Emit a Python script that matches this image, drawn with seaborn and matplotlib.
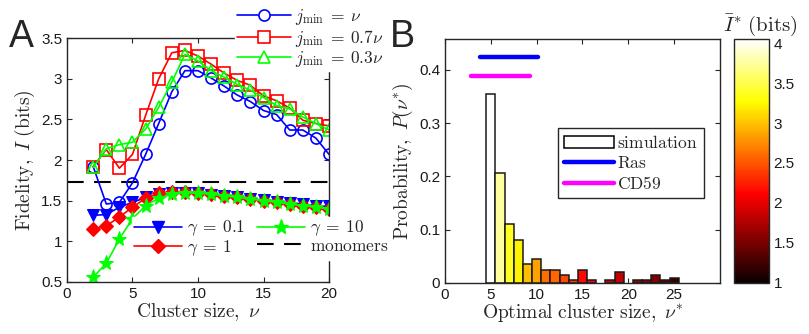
import numpy as np
import matplotlib
matplotlib.use("Agg")
import matplotlib.pyplot as plt
import seaborn as sns
from matplotlib.colors import Normalize
from matplotlib.patches import Patch
from matplotlib.lines import Line2D

# Panel A data
nu = list(range(2, 21))
I_jnu = [1.92, 1.46, 1.48, 1.72, 2.07, 2.45, 2.84, 3.10, 3.10, 3.01, 2.91, 2.80,
         2.72, 2.61, 2.56, 2.37, 2.37, 2.27, 2.07]
I_j07 = [1.92, 2.13, 1.90, 2.07, 2.55, 3.00, 3.32, 3.35, 3.28, 3.18, 3.07, 2.98,
         2.92, 2.79, 2.73, 2.64, 2.49, 2.45, 2.42]
I_j03 = [1.91, 2.14, 2.19, 2.22, 2.38, 2.65, 2.96, 3.30, 3.22, 3.10, 3.02, 2.93,
         2.86, 2.77, 2.67, 2.63, 2.53, 2.45, 2.37]
I_g01 = [1.32, 1.33, 1.42, 1.48, 1.54, 1.58, 1.60, 1.60, 1.59, 1.57, 1.56, 1.54,
         1.52, 1.51, 1.49, 1.47, 1.46, 1.44, 1.43]
I_g1 = [1.15, 1.19, 1.30, 1.42, 1.53, 1.59, 1.61, 1.61, 1.60, 1.58, 1.56, 1.54,
        1.52, 1.50, 1.48, 1.46, 1.44, 1.42, 1.40]
I_g10 = [0.56, 0.73, 1.03, 1.28, 1.44, 1.53, 1.58, 1.60, 1.59, 1.58, 1.56, 1.54,
         1.52, 1.50, 1.48, 1.46, 1.44, 1.42, 1.40]
I_monomer = 1.73

# Panel B data
nu_opt = [5, 6, 7, 8, 9, 10, 11, 12, 13, 14, 15, 16, 18, 19, 21, 22, 23, 24, 25]
prob = [0.355, 0.207, 0.110, 0.080, 0.035, 0.045, 0.025, 0.025, 0.015, 0.005,
        0.025, 0.005, 0.005, 0.020, 0.005, 0.005, 0.015, 0.005, 0.010]
I_bar = [4.05, 3.75, 3.38, 3.22, 2.98, 2.85, 2.62, 2.58, 2.45, 2.40,
         2.15, 2.10, 1.90, 1.85, 1.65, 1.60, 1.55, 1.40, 1.20]
ras_range = [3.8, 10.2]
ras_y = 0.424
cd59_range = [2.8, 9.3]
cd59_y = 0.388
cbar_lim = [1.0, 4.05]

sns.set_style("ticks")
plt.rcParams.update({
    "font.family": ["Liberation Sans", "DejaVu Sans"],
    "mathtext.fontset": "cm",
    "font.size": 11,
    "axes.linewidth": 1.0,
    "axes.edgecolor": "#262626",
    "xtick.direction": "in", "ytick.direction": "in",
    "xtick.top": True, "ytick.right": True,
    "xtick.major.size": 3.5, "ytick.major.size": 3.5,
    "xtick.color": "#262626", "ytick.color": "#262626",
    "xtick.labelcolor": "#1a1a1a", "ytick.labelcolor": "#1a1a1a",
    "xtick.labelsize": 11, "ytick.labelsize": 11,
})

fig = plt.figure(figsize=(8.09, 3.34), dpi=100)
axA = fig.add_axes([0.0828, 0.1557, 0.3239, 0.730])
axB = fig.add_axes([0.550, 0.153, 0.340, 0.730])
cax = fig.add_axes([0.907, 0.153, 0.043, 0.730])

LAB = 14
LEG = 12.5

# ---- Panel A
series_top = [
    (I_jnu, "b", "o", r"$j_{\mathrm{min}}\:=\:\nu$"),
    (I_j07, "r", "s", r"$j_{\mathrm{min}}\:=\:0.7\nu$"),
    (I_j03, "#00ff00", "^", r"$j_{\mathrm{min}}\:=\:0.3\nu$"),
]
series_bot = [
    (I_g01, "b", "v", 8.5, r"$\gamma\:=\:0.1$"),
    (I_g1, "r", "D", 7, r"$\gamma\:=\:1$"),
    (I_g10, "#00ff00", "*", 11, r"$\gamma\:=\:10$"),
]
h_top, h_bot = [], []
for vals, c, m, lab in series_top:
    sns.lineplot(x=nu, y=vals, ax=axA, color=c, marker=m, markersize=8,
                 markerfacecolor="none", markeredgecolor=c, markeredgewidth=1.2,
                 linewidth=1.2, legend=False)
    h_top.append(Line2D([], [], color=c, marker=m, markersize=8, mfc="white",
                        mec=c, mew=1.2, lw=1.2))
for vals, c, m, ms, lab in series_bot:
    sns.lineplot(x=nu, y=vals, ax=axA, color=c, marker=m, markersize=ms,
                 markerfacecolor=c, markeredgecolor=c, linewidth=1.2, legend=False)
    h_bot.append(Line2D([], [], color=c, marker=m, markersize=ms, mfc=c, mec=c, lw=1.2))
axA.axhline(I_monomer, color="black", lw=1.5, dashes=(8, 5), zorder=1)
h_mono = Line2D([], [], color="black", lw=1.5, dashes=(8, 5))

axA.set_xlim(0, 20)
axA.set_ylim(0.5, 3.5)
axA.set_xticks([0, 5, 10, 15, 20])
axA.set_yticks([0.5, 1, 1.5, 2, 2.5, 3, 3.5])
axA.set_yticklabels(["0.5", "1", "1.5", "2", "2.5", "3", "3.5"])
axA.set_xlabel(r"$\mathrm{Cluster\ size,}\ \nu$", fontsize=LAB, labelpad=0)
axA.set_ylabel(r"$\mathrm{Fidelity,}\ I\ \mathrm{(bits)}$", fontsize=LAB, labelpad=3)

leg_kw = dict(frameon=True, facecolor="white", edgecolor="white", framealpha=1,
              fancybox=False, fontsize=LEG, handletextpad=0.25, borderpad=0.1,
              borderaxespad=0)
fig.legend(h_top, [s[3] for s in series_top], loc="upper right",
           bbox_to_anchor=(0.476, 0.985), handlelength=3.1, labelspacing=0.05,
           **leg_kw)
fig.legend([h_bot[0], h_bot[1], h_bot[2], h_mono],
           [series_bot[0][4], series_bot[1][4], series_bot[2][4], r"$\mathrm{monomers}$"],
           loc="upper left", bbox_to_anchor=(0.163, 0.35), ncol=2,
           handlelength=2.8, labelspacing=0.0, columnspacing=0.7, **leg_kw)

# ---- Panel B
cmap = plt.get_cmap("hot")
norm = Normalize(vmin=cbar_lim[0], vmax=cbar_lim[1])
axB.bar(nu_opt, prob, width=1.0, color=[cmap(norm(v)) for v in I_bar],
        edgecolor="#1a1a1a", linewidth=1.1)
sns.lineplot(x=ras_range, y=[ras_y, ras_y], ax=axB, color="#0000ff", lw=3.2, legend=False)
sns.lineplot(x=cd59_range, y=[cd59_y, cd59_y], ax=axB, color="#ff00ff", lw=3.2, legend=False)
axB.set_xlim(0, 30)
axB.set_ylim(0, 0.458)
axB.set_xticks([0, 5, 10, 15, 20, 25])
axB.set_yticks([0, 0.1, 0.2, 0.3, 0.4])
axB.set_yticklabels(["0", "0.1", "0.2", "0.3", "0.4"])
axB.set_xlabel(r"$\mathrm{Optimal\ cluster\ size,}\ \nu^{*}$", fontsize=LAB, labelpad=0)
axB.set_ylabel(r"$\mathrm{Probability,}\ P(\nu^{*})$", fontsize=LAB, labelpad=3)
axB.legend([Patch(facecolor="white", edgecolor="black", lw=1.1),
            Line2D([], [], color="#0000ff", lw=3.2),
            Line2D([], [], color="#ff00ff", lw=3.2)],
           [r"$\mathrm{simulation}$", r"$\mathrm{Ras}$", r"$\mathrm{CD59}$"],
           loc="upper left", bbox_to_anchor=(0.41, 0.635), frameon=True,
           fancybox=False, edgecolor="#262626", framealpha=1, fontsize=LEG,
           handlelength=2.9, handletextpad=0.15, labelspacing=0.22, borderpad=0.35,
           borderaxespad=0)
axB.get_legend().get_frame().set_linewidth(1.0)

cb = matplotlib.colorbar.ColorbarBase(cax, cmap=cmap, norm=norm)
cb.set_ticks([1, 1.5, 2, 2.5, 3, 3.5, 4])
cb.set_ticklabels(["1", "1.5", "2", "2.5", "3", "3.5", "4"])
cax.tick_params(direction="in", length=3, left=False, right=True)
cb.outline.set_linewidth(1.0)
cax.set_title(r"$\bar{I}^{*}\ \mathrm{(bits)}$", fontsize=LAB + 1, pad=6, x=0.75)

fig.text(0.026, 0.89, "A", fontsize=27, ha="center", va="center")
fig.text(0.497, 0.89, "B", fontsize=27, ha="center", va="center")

fig.savefig("out.png", dpi=100)
